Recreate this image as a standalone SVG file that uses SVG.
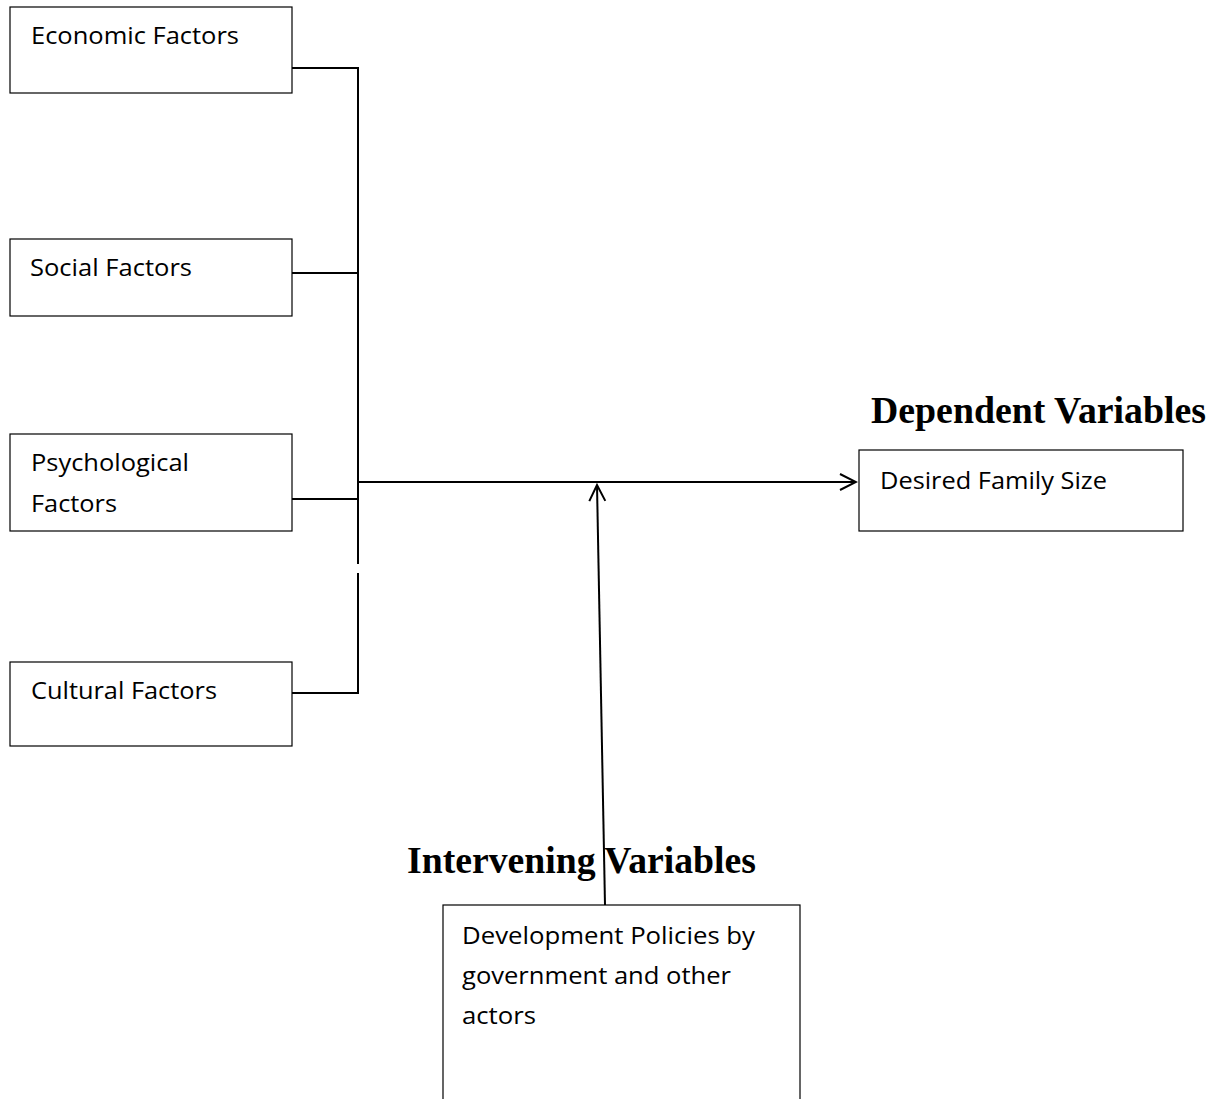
<svg xmlns="http://www.w3.org/2000/svg" width="1213" height="1099" viewBox="0 0 1213 1099">
<style>
.box{fill:#fff;stroke:#000;stroke-width:1.2}
.lbl{font-family:"Open Sans","Liberation Sans",sans-serif;font-size:23px;fill:#000}
.hd{font-family:"Liberation Serif",serif;font-size:37px;font-weight:bold;fill:#000}
.ln{fill:none;stroke:#000;stroke-width:2}
</style>
<defs>
<marker id="chev" viewBox="0 0 20 20" refX="18" refY="10" markerWidth="20" markerHeight="20" markerUnits="userSpaceOnUse" orient="auto">
<path d="M2,2 L18,10 L2,18" fill="none" stroke="#000" stroke-width="2"/>
</marker>
</defs>
<rect width="1213" height="1099" fill="#fff"/>
<g id="economic"><rect class="box" x="10" y="7" width="282" height="86"/><text class="lbl" x="31" y="44" textLength="208" lengthAdjust="spacingAndGlyphs">Economic Factors</text></g>
<g id="social"><rect class="box" x="10" y="239" width="282" height="77"/><text class="lbl" x="30" y="276" textLength="162" lengthAdjust="spacingAndGlyphs">Social Factors</text></g>
<g id="psychological"><rect class="box" x="10" y="434" width="282" height="97"/><text class="lbl" x="31" y="471" textLength="158" lengthAdjust="spacingAndGlyphs">Psychological</text><text class="lbl" x="31" y="512" textLength="86" lengthAdjust="spacingAndGlyphs">Factors</text></g>
<g id="cultural"><rect class="box" x="10" y="662" width="282" height="84"/><text class="lbl" x="31" y="699" textLength="186" lengthAdjust="spacingAndGlyphs">Cultural Factors</text></g>
<g id="dependent"><text class="hd" x="871" y="423" textLength="335" lengthAdjust="spacingAndGlyphs">Dependent Variables</text><rect class="box" x="859" y="450" width="324" height="81"/><text class="lbl" x="880" y="489" textLength="227" lengthAdjust="spacingAndGlyphs">Desired Family Size</text></g>
<g id="intervening"><text class="hd" x="407" y="873" textLength="349" lengthAdjust="spacingAndGlyphs">Intervening Variables</text><rect class="box" x="443" y="905" width="357" height="210"/><text class="lbl" x="462" y="944" textLength="293" lengthAdjust="spacingAndGlyphs">Development Policies by</text><text class="lbl" x="462" y="984" textLength="269" lengthAdjust="spacingAndGlyphs">government and other</text><text class="lbl" x="462" y="1024" textLength="74" lengthAdjust="spacingAndGlyphs">actors</text></g>
<g id="connectors">
<path class="ln" d="M292,68 H358 V564"/>
<path class="ln" d="M358,573 V693 H292"/>
<path class="ln" d="M292,273 H358"/>
<path class="ln" d="M292,499 H358"/>
<path class="ln" d="M358,482 H856" marker-end="url(#chev)"/>
<path class="ln" d="M605,905 L597,485" marker-end="url(#chev)"/>
</g>
</svg>
